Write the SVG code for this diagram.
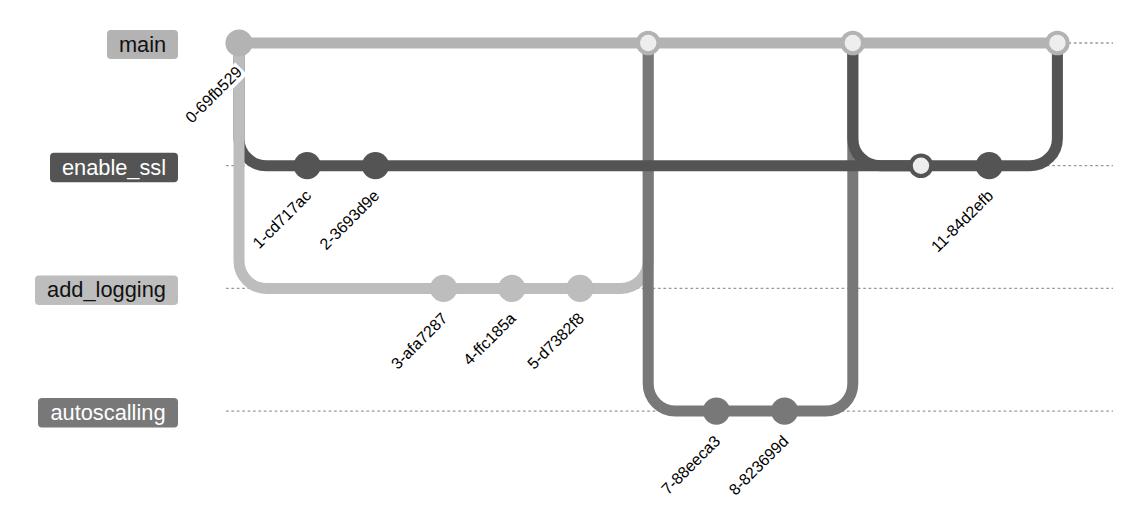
<svg xmlns="http://www.w3.org/2000/svg" width="1145" height="519" viewBox="0 0 1145 519">
<style>
.lane{stroke:#999;stroke-width:1.3;stroke-dasharray:2.7 2.7;fill:none}
.arr{fill:none;stroke-width:11}
.b0{stroke:#b3b3b3}.b1{stroke:#545454}.b2{stroke:#bdbdbd}.b3{stroke:#787878}
.f0{fill:#b3b3b3}.f1{fill:#545454}.f2{fill:#bdbdbd}.f3{fill:#787878}
.mi{fill:#eeeeee}
.bl{font-family:"Liberation Sans",Arial,sans-serif;font-size:21.8px;text-anchor:middle}
.dk{fill:#111}.lt{fill:#ffffff}
.cl{font-family:"Liberation Sans",Arial,sans-serif;font-size:16px;text-anchor:end;fill:#000}
.bg{fill:#ffffff}
</style>
<rect width="1145" height="519" fill="#ffffff"/>
<g id="lanes">
<line class="lane" x1="226" y1="43" x2="1113" y2="43"/>
<line class="lane" x1="226" y1="165.7" x2="1113" y2="165.7"/>
<line class="lane" x1="226" y1="288.4" x2="1113" y2="288.4"/>
<line class="lane" x1="226" y1="411.1" x2="1113" y2="411.1"/>
</g>
<g id="branch-main"><rect class="f0" x="107" y="30" width="71" height="29" rx="4"/><text class="bl dk" x="142.5" y="52">main</text></g>
<g id="branch-enable_ssl"><rect class="f1" x="50" y="152.7" width="128" height="29.5" rx="4"/><text class="bl lt" x="114" y="174.7">enable_ssl</text></g>
<g id="branch-add_logging"><rect class="f2" x="35" y="275.4" width="143" height="29.5" rx="4"/><text class="bl dk" x="106.5" y="297.4">add_logging</text></g>
<g id="branch-autoscalling"><rect class="f3" x="38" y="398.1" width="140" height="29.5" rx="4"/><text class="bl lt" x="108" y="420.1">autoscalling</text></g>
<g id="connectors">
<path class="arr b1" d="M239,43 L239,138.4 A27.3,27.3 0 0 0 266.3,165.7 L307.2,165.7"/>
<path class="arr b1" d="M307.2,165.7 L375.4,165.7"/>
<path class="arr b2" d="M239,43 L239,261.1 A27.3,27.3 0 0 0 266.3,288.4 L443.6,288.4"/>
<path class="arr b2" d="M443.6,288.4 L511.8,288.4"/>
<path class="arr b2" d="M511.8,288.4 L580,288.4"/>
<path class="arr b0" d="M239,43 L648.2,43"/>
<path class="arr b2" d="M580,288.4 L620.9,288.4 A27.3,27.3 0 0 0 648.2,261.1 L648.2,43"/>
<path class="arr b3" d="M648.2,43 L648.2,383.8 A27.3,27.3 0 0 0 675.5,411.1 L716.4,411.1"/>
<path class="arr b3" d="M716.4,411.1 L784.6,411.1"/>
<path class="arr b0" d="M648.2,43 L852.8,43"/>
<path class="arr b3" d="M784.6,411.1 L825.5,411.1 A27.3,27.3 0 0 0 852.8,383.8 L852.8,43"/>
<path class="arr b1" d="M375.4,165.7 L921,165.7"/>
<path class="arr b1" d="M852.8,43 L852.8,138.4 A27.3,27.3 0 0 0 880.1,165.7 L921,165.7"/>
<path class="arr b1" d="M921,165.7 L989.2,165.7"/>
<path class="arr b0" d="M852.8,43 L1057.4,43"/>
<path class="arr b1" d="M989.2,165.7 L1030.1,165.7 A27.3,27.3 0 0 0 1057.4,138.4 L1057.4,43"/>
</g>
<g id="commit-0"><circle class="f0" cx="239" cy="43" r="13.6"/><g transform="translate(243,73) rotate(-45)"><rect class="bg" x="-74" y="-13" width="76" height="17"/><text class="cl" x="0" y="0">0-69fb529</text></g></g>
<g id="commit-1"><circle class="f1" cx="307.2" cy="165.7" r="13.6"/><g transform="translate(312.2,196.7) rotate(-45)"><rect class="bg" x="-77" y="-13" width="79" height="17"/><text class="cl" x="0" y="0">1-cd717ac</text></g></g>
<g id="commit-2"><circle class="f1" cx="375.4" cy="165.7" r="13.6"/><g transform="translate(380.4,196.7) rotate(-45)"><rect class="bg" x="-79" y="-13" width="81" height="17"/><text class="cl" x="0" y="0">2-3693d9e</text></g></g>
<g id="commit-3"><circle class="f2" cx="443.6" cy="288.4" r="13.6"/><g transform="translate(448.6,319.4) rotate(-45)"><rect class="bg" x="-74" y="-13" width="76" height="17"/><text class="cl" x="0" y="0">3-afa7287</text></g></g>
<g id="commit-4"><circle class="f2" cx="511.8" cy="288.4" r="13.6"/><g transform="translate(516.8,319.4) rotate(-45)"><rect class="bg" x="-69" y="-13" width="71" height="17"/><text class="cl" x="0" y="0">4-ffc185a</text></g></g>
<g id="commit-5"><circle class="f2" cx="580" cy="288.4" r="13.6"/><g transform="translate(585,319.4) rotate(-45)"><rect class="bg" x="-74" y="-13" width="76" height="17"/><text class="cl" x="0" y="0">5-d7382f8</text></g></g>
<g id="commit-6"><circle class="f0" cx="648.2" cy="43" r="12.3"/><circle class="mi" cx="648.2" cy="43" r="8.2"/></g>
<g id="commit-7"><circle class="f3" cx="716.4" cy="411.1" r="13.6"/><g transform="translate(721.4,442.1) rotate(-45)"><rect class="bg" x="-78" y="-13" width="80" height="17"/><text class="cl" x="0" y="0">7-88eeca3</text></g></g>
<g id="commit-8"><circle class="f3" cx="784.6" cy="411.1" r="13.6"/><g transform="translate(789.6,442.1) rotate(-45)"><rect class="bg" x="-79" y="-13" width="81" height="17"/><text class="cl" x="0" y="0">8-823699d</text></g></g>
<g id="commit-9"><circle class="f0" cx="852.8" cy="43" r="12.3"/><circle class="mi" cx="852.8" cy="43" r="8.2"/></g>
<g id="commit-10"><circle class="f1" cx="921" cy="165.7" r="12.3"/><circle class="mi" cx="921" cy="165.7" r="8.2"/></g>
<g id="commit-11"><circle class="f1" cx="989.2" cy="165.7" r="13.6"/><g transform="translate(994.2,196.7) rotate(-45)"><rect class="bg" x="-83" y="-13" width="85" height="17"/><text class="cl" x="0" y="0">11-84d2efb</text></g></g>
<g id="commit-12"><circle class="f0" cx="1057.4" cy="43" r="12.3"/><circle class="mi" cx="1057.4" cy="43" r="8.2"/></g>
</svg>
